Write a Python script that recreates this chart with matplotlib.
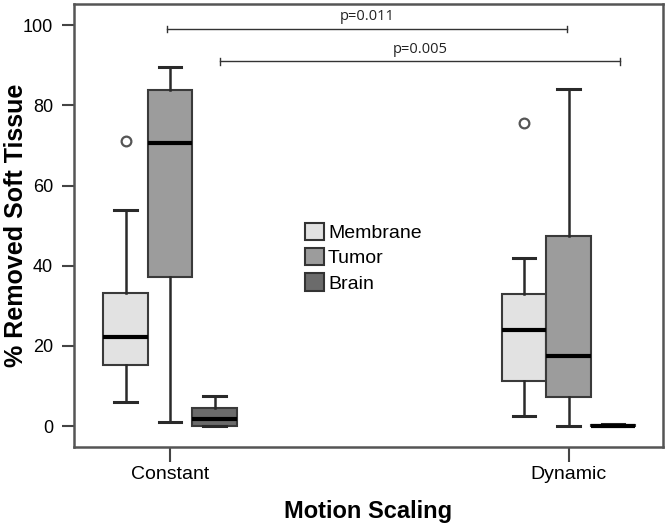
import matplotlib.pyplot as plt
from matplotlib.patches import Patch

plt.rcParams['font.family'] = ['Liberation Sans', 'DejaVu Sans']

groups = ['Constant', 'Dynamic']
tissues = ['Membrane', 'Tumor', 'Brain']
colors = ['#e2e2e2', '#9c9c9c', '#6b6b6b']

# box stats per tissue, [Constant, Dynamic]
whislo = {'Membrane': [6.1, 2.6], 'Tumor': [1.1, 0.1], 'Brain': [0.0, 0.0]}
q1 = {'Membrane': [15.2, 11.2], 'Tumor': [37.2, 7.3], 'Brain': [0.0, 0.0]}
med = {'Membrane': [22.3, 23.9], 'Tumor': [70.6, 17.5], 'Brain': [1.7, 0.1]}
q3 = {'Membrane': [33.3, 32.9], 'Tumor': [83.8, 47.5], 'Brain': [4.6, 0.3]}
whishi = {'Membrane': [53.9, 42.0], 'Tumor': [89.5, 84.1], 'Brain': [7.5, 0.5]}
fliers = {'Membrane': [[71.0], [75.7]], 'Tumor': [[], []], 'Brain': [[], []]}

# significance brackets: (from, to, height, label)
brackets = [(0.992, 1.996, 99.0, 'p=0.011'), (1.125, 2.129, 91.0, 'p=0.005')]

fig = plt.figure(figsize=(6.69, 5.31), dpi=100)
ax = fig.add_axes([0.1106, 0.1582, 0.8804, 0.8343])

offset = 0.1117
for t, tissue in enumerate(tissues):
    stats = []
    for g in range(len(groups)):
        stats.append(dict(whislo=whislo[tissue][g], q1=q1[tissue][g], med=med[tissue][g],
                          q3=q3[tissue][g], whishi=whishi[tissue][g], fliers=fliers[tissue][g]))
    pos = [g + 1 + (t - 1) * offset for g in range(len(groups))]
    ax.bxp(stats, positions=pos, widths=offset, capwidths=0.056, patch_artist=True,
           showfliers=True, manage_ticks=False,
           boxprops=dict(facecolor=colors[t], edgecolor='#3a3a3a', linewidth=1.5),
           medianprops=dict(color='black', linewidth=3),
           whiskerprops=dict(color='#2a2a2a', linewidth=1.8),
           capprops=dict(color='#2a2a2a', linewidth=2.2),
           flierprops=dict(marker='o', markersize=7, markerfacecolor='white',
                           markeredgecolor='#555555', markeredgewidth=1.6))

for x0, x1, y, label in brackets:
    ax.plot([x0, x1], [y, y], color='#333333', linewidth=1.0)
    ax.plot([x0, x0], [y - 0.8, y + 0.8], color='#333333', linewidth=1.0)
    ax.plot([x1, x1], [y - 0.8, y + 0.8], color='#333333', linewidth=1.0)
    ax.text((x0 + x1) / 2, y + 1.2, label, ha='center', va='bottom', fontsize=10.5,
            color='#222222', family=['Open Sans', 'DejaVu Sans'])

ax.set_xlim(0.759, 2.237)
ax.set_ylim(-5.2, 105.3)
ax.set_xticks([1, 2])
ax.set_xticklabels(groups, fontsize=14)
ax.set_yticks([0, 20, 40, 60, 80, 100])
ax.tick_params(axis='y', labelsize=13, length=9, width=1.5, color='#444444', pad=6)
ax.tick_params(axis='x', length=11, width=1.5, color='#444444', pad=3)
for sp in ax.spines.values():
    sp.set_color('#555555')
    sp.set_linewidth(1.8)

ax.set_xlabel('Motion Scaling', fontsize=17, fontweight='bold', labelpad=12)
ax.set_ylabel('% Removed Soft Tissue', fontsize=18, fontweight='bold')
ax.yaxis.set_label_coords(-0.078, 0.5)

handles = [Patch(facecolor=c, edgecolor='#333333', linewidth=1.5) for c in colors]
ax.legend(handles, tissues, loc='upper left', bbox_to_anchor=(0.375, 0.528), frameon=False,
          fontsize=14, handlelength=1.0, handleheight=1.0, handletextpad=0.2,
          labelspacing=0.3, borderpad=0)

fig.savefig('out.png', dpi=100)
